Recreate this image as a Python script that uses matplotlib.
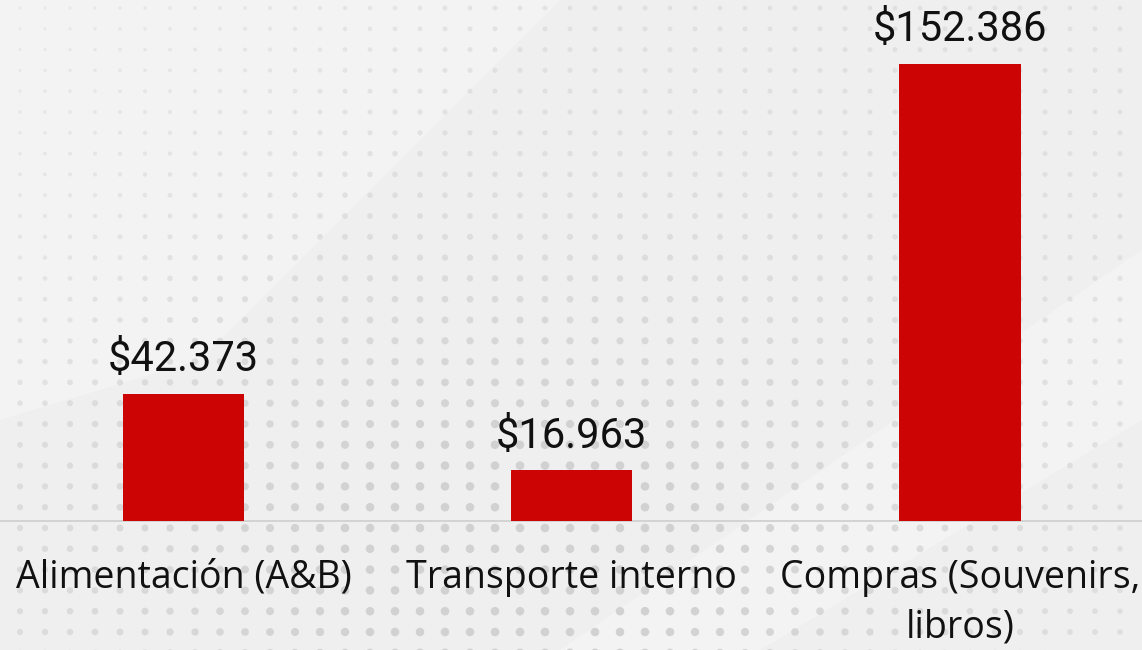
import matplotlib
matplotlib.use("Agg")
import matplotlib.pyplot as plt
import numpy as np
from matplotlib.patches import Polygon

categorias = ["Alimentación (A&B)", "Transporte interno", "Compras (Souvenirs,\nlibros)"]
valores = [42.373, 16.963, 152.386]
etiquetas = ["$42.373", "$16.963", "$152.386"]

W, H = 1142, 650
fig = plt.figure(figsize=(W / 100, H / 100), dpi=100)
fig.patch.set_facecolor("#efefef")

# fondo: bandas diagonales y trama de puntos
bg = fig.add_axes([0, 0, 1, 1])
bg.set_xlim(0, W); bg.set_ylim(H, 0); bg.axis("off")
bg.add_patch(Polygon([(0, 0), (560, 0), (200, 360), (0, 420)], closed=True,
                     facecolor="white", alpha=0.25, lw=0))
bg.add_patch(Polygon([(1142, 250), (1142, 420), (760, 650), (560, 650)], closed=True,
                     facecolor="white", alpha=0.3, lw=0))
gx, gy = np.meshgrid(np.arange(-5, W + 25, 25), np.arange(8, H + 21, 20.8))
gx, gy = gx.ravel(), gy.ravel()
# intensidad mayor hacia el centro inferior
inten = np.clip(0.25 + 0.9 * np.exp(-((gx - 520) / 420) ** 2 - ((gy - 560) / 260) ** 2), 0, 1)
inten *= np.clip((gx + gy) / 500, 0.15, 1)
bg.scatter(gx, gy, s=4 + 34 * inten, color="#cccccc", alpha=0.25 + 0.6 * inten, lw=0)

# grafico de barras (escala 3 px por unidad)
ax = fig.add_axes([0, 0, 1, 1])
ax.patch.set_alpha(0)
ax.set_xlim(-0.4726, 2.4688)
ax.set_ylim(-43, 173.67)
ax.axis("off")
x = np.arange(len(categorias))
ax.bar(x, valores, width=0.312, color="#cc0404", zorder=3)
ax.axhline(0, color="#d0d0d0", lw=1.3, zorder=2)

for xi, v, lab in zip(x, valores, etiquetas):
    ax.text(xi, v + 4.5, lab, ha="center", va="bottom", fontsize=30,
            family="Roboto", color="#111111")
for xi, cat in zip(x, categorias):
    ax.text(xi, -12.5, cat, ha="center", va="top", fontsize=27,
            family="Open Sans", color="#111111", linespacing=1.42)

fig.savefig("out.png", dpi=100)
